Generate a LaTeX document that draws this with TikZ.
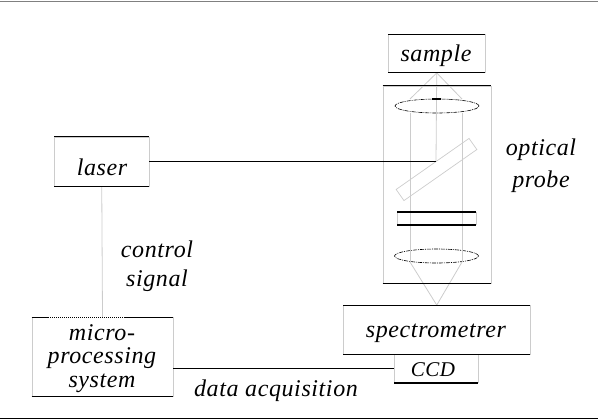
\documentclass[tikz,border=0pt]{standalone}
\usepackage{fontspec}
\setmainfont[LetterSpace=2.5]{Liberation Serif}
\usetikzlibrary{shapes.geometric, positioning}
\definecolor{palegray}{gray}{0.8}
\tikzset{
	boxnode/.style={draw=palegray, line width=0.8pt, inner sep=0pt},
	edge/.style={black, line width=0.9pt},
	heavy/.style={black, line width=2pt},
	pale/.style={palegray, line width=0.8pt},
	lens/.style={ellipse, draw=black, line width=0.6pt, dash pattern=on 4pt off 1pt on 1pt off 1pt, minimum width=84pt, minimum height=14pt, inner sep=0pt},
	caption/.style={font=\fontsize{24}{28}\selectfont\itshape, align=center}
}
\begin{document}
\begin{tikzpicture}[x=1pt, y=-1pt]
	\useasboundingbox (0,0) rectangle (598,420);

	% boxes
	\node[boxnode, minimum width=96.5pt, minimum height=38pt] (sample) at (436.75,53.5) {};
	\node[boxnode, minimum width=108pt, minimum height=197pt] (probe) at (437,184.5) {};
	\node[boxnode, minimum width=94.5pt, minimum height=49pt] (laser) at (101.75,161.5) {};
	\node[boxnode, minimum width=141pt, minimum height=78.5pt] (micro) at (102.5,356.75) {};
	\node[boxnode, minimum width=186.5pt, minimum height=49pt] (spectro) at (436.75,330) {};
	\node[boxnode, minimum width=83.5pt, minimum height=28.5pt] (ccd) at (436.25,368.5) {};

	% optics
	\node[lens] (lensa) at (437,106) {};
	\node[lens] (lensb) at (436.5,256) {};
	\node[draw=palegray, line width=0.7pt, rotate=35, minimum width=89pt, minimum height=13.6pt, inner sep=0pt] (mirror) at (436.5,169.5) {};
	\coordinate (hit) at (436,161.5);
	\coordinate (upl) at (410,99);
	\coordinate (upr) at (462,99);
	\coordinate (bml) at (410,113);
	\coordinate (bmr) at (462,113);
	\coordinate (lol) at (410,262);
	\coordinate (lor) at (462,262);
	\coordinate (fa) at (397,212);
	\coordinate (fb) at (476,212);
	\coordinate (fc) at (397,225);
	\coordinate (fd) at (476,225);
	\coordinate (dota) at (432,99);
	\coordinate (dotb) at (441,99);
	\coordinate (mida) at (48,317.5);
	\coordinate (midb) at (125,317.5);

	\draw[pale] (sample.south) -- (upl);
	\draw[pale] (sample.south) -- (upr);
	\draw[pale] (sample.south) -- (hit);
	\draw[pale] (bml) -- (lol);
	\draw[pale] (bmr) -- (lor);
	\draw[pale] (lol) -- (spectro.north);
	\draw[pale] (lor) -- (spectro.north);
	\draw[pale] (fa) -- (fc);
	\draw[pale] (fb) -- (fd);
	\draw[pale] (laser.south) -- (micro.north);

	% black top and bottom edges
	\foreach \n in {sample,probe,laser,micro,spectro}{
		\draw[edge] (\n.north west) -- (\n.north east);
		\draw[edge] (\n.south west) -- (\n.south east);
	}
	\draw[white, line width=1.2pt] (mida) -- (midb);
	\draw[black, line width=1.2pt, dash pattern=on 1pt off 1pt] (mida) -- (midb);
	\draw[heavy] (ccd.south west) -- (ccd.south east);
	\draw[heavy] (fa) -- (fb);
	\draw[heavy] (fc) -- (fd);
	\draw[heavy] (dota) -- (dotb);

	% connectors
	\draw[edge] (laser.east) -- (hit);
	\draw[edge] (micro.east |- ccd.west) -- (ccd.west);

	% rules
	\coordinate (topa) at (0,1);
	\coordinate (topb) at (598,1);
	\coordinate (bota) at (0,418);
	\coordinate (botb) at (598,418);
	\draw[gray, line width=0.8pt] (topa) -- (topb);
	\draw[edge] (bota) -- (botb);

	% labels
	\node[caption] (sampletext) at (436,56) {sample};
	\node[caption] (lasertext) at (102,167) {laser};
	\node[caption] (spectrotext) at (436,333) {spectrometrer};
	\node[caption, font=\fontsize{21}{24}\selectfont\itshape] (ccdtext) at (433,370) {CCD};
	\node[caption] (optical) at (541,150) {optical};
	\node[caption] (probetext) at (541,182) {probe};
	\node[caption] (control) at (157,249) {control};
	\node[caption] (signal) at (157,281) {signal};
	\node[caption] (microa) at (102,333) {micro-};
	\node[caption] (microb) at (102,358) {processing};
	\node[caption] (microc) at (102,383) {system};
	\node[caption] (data) at (276,391) {data acquisition};
\end{tikzpicture}
\end{document}
